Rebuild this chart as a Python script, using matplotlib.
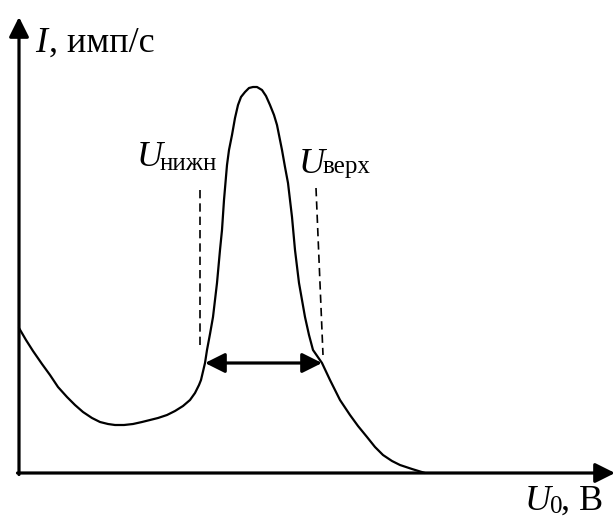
import matplotlib
matplotlib.use("Agg")
import matplotlib.pyplot as plt

# Curve (U0 along x, I along y, arbitrary units)
u_vals = [0, 7, 14, 23, 31, 39, 48, 56, 64, 73, 81, 89, 96, 105, 114, 123, 131, 139, 148, 156,
          164, 171, 176, 180, 182, 186, 188, 191, 194, 196, 198, 201, 203, 205, 208, 210, 213, 216, 219, 222,
          226, 230, 234, 238, 243, 247, 251, 255, 258, 263, 266, 269, 273, 276, 280, 286, 290, 294, 303, 311,
          321, 331, 339, 348, 356, 364, 373, 381, 393, 406]
i_vals = [145, 133, 122, 109, 98, 86, 76, 68, 61, 55, 51, 49, 48, 48, 49, 51, 53, 55, 58, 62,
          67, 73, 80, 88, 93, 110, 123, 139, 156, 173, 190, 223, 243, 273, 308, 323, 338, 355, 368, 376,
          381, 385, 386, 386, 383, 377, 368, 358, 348, 323, 306, 290, 256, 223, 190, 156, 138, 123, 110, 93,
          73, 58, 47, 36, 26, 18, 12, 8, 4, 0]

# Markers of the window
u_low = [181, 181]
i_low = [283, 123]
u_up = [297, 304]
i_up = [285, 118]
width_arrow_u = [186, 303]
width_arrow_i = 110

y_label_main = "I"
y_label_rest = ", имп/с"
x_label_main = "U"
x_label_sub = "0"
x_label_rest = ", В"
low_main, low_sub = "U", "нижн"
up_main, up_sub = "U", "верх"

fig = plt.figure(figsize=(6.13, 5.18), dpi=100)
ax = fig.add_axes([0, 0, 1, 1])
ax.set_xlim(-19, 594)
ax.set_ylim(-45, 473)
ax.axis("off")

serif = "Liberation Serif"
arrow_style = "-|>,head_length=0.6,head_width=0.3"

# Axes with arrows
ax.annotate("", xy=(0, 456), xytext=(0, -1.5), annotation_clip=False,
            arrowprops=dict(arrowstyle=arrow_style, mutation_scale=20,
                            lw=2.3, color="black", shrinkA=0, shrinkB=0))
ax.annotate("", xy=(596, 0), xytext=(-1.5, 0), annotation_clip=False,
            arrowprops=dict(arrowstyle=arrow_style, mutation_scale=20,
                            lw=2.3, color="black", shrinkA=0, shrinkB=0))

# Curve
ax.plot(u_vals, i_vals, color="black", lw=1.6, solid_capstyle="round", solid_joinstyle="round")

# Dashed markers
ax.plot(u_low, i_low, color="black", lw=1.2, linestyle=(0, (5, 3)))
ax.plot(u_up, i_up, color="black", lw=1.2, linestyle=(0, (5, 3)))

# Width double arrow
ax.annotate("", xy=(width_arrow_u[1], width_arrow_i), xytext=(width_arrow_u[0], width_arrow_i),
            arrowprops=dict(arrowstyle="<|-|>,head_length=0.6,head_width=0.3", mutation_scale=20,
                            lw=2.3, color="black", shrinkA=0, shrinkB=0))

# Labels
fs = 26
fss = 18
ax.text(16, 421, y_label_main, fontsize=fs, family=serif, style="italic", va="baseline", ha="left")
ax.text(30, 421, y_label_rest, fontsize=fs, family=serif, va="baseline", ha="left")

ax.text(118, 307, low_main, fontsize=fs, family=serif, style="italic", va="baseline", ha="left")
ax.text(141, 303, low_sub, fontsize=fss, family=serif, va="baseline", ha="left")

ax.text(280, 300, up_main, fontsize=fs, family=serif, style="italic", va="baseline", ha="left")
ax.text(304, 300, up_sub, fontsize=fss, family=serif, va="baseline", ha="left")

ax.text(506, -37, x_label_main, fontsize=fs, family=serif, style="italic", va="baseline", ha="left")
ax.text(531, -40, x_label_sub, fontsize=fss, family=serif, va="baseline", ha="left")
ax.text(542, -37, x_label_rest, fontsize=fs, family=serif, va="baseline", ha="left")

fig.savefig("out.png", dpi=100)
